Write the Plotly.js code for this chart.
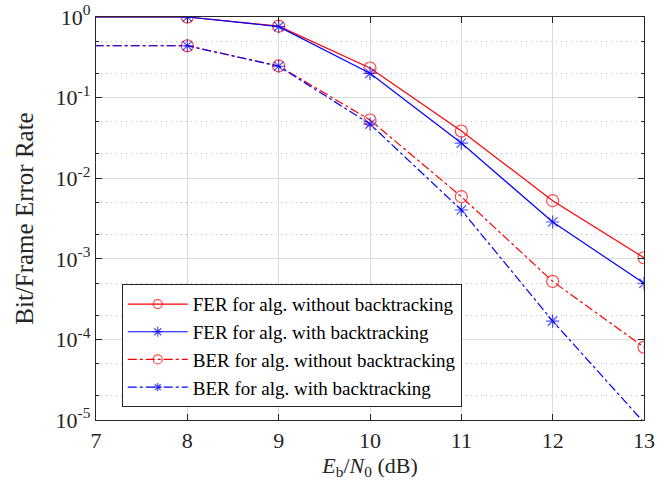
<!DOCTYPE html>
<html><head><meta charset="utf-8">
<script src="https://cdn.plot.ly/plotly-3.0.1.min.js"></script>
<style>body{margin:0;background:#fff}#plot{width:665px;height:485px}</style>
</head><body><div id="plot"></div>
<script>
const ebn0 = [6, 7, 8, 9, 10, 11, 12, 13];
const ferNoBT = [1.0, 1.0, 1.0, 0.77, 0.233, 0.0385, 0.00526, 0.00103];
const ferBT   = [1.0, 1.0, 1.0, 0.76, 0.20, 0.0273, 0.00286, 0.000497];
const berNoBT = [0.44, 0.44, 0.44, 0.247, 0.0527, 0.0059, 0.000525, 0.00008];
const berBT   = [0.44, 0.44, 0.44, 0.245, 0.047, 0.00403, 0.000169, 0.0000093];
const names = ['FER for alg. without backtracking','FER for alg. with backtracking','BER for alg. without backtracking','BER for alg. with backtracking'];
const yTickVals = [1e-5,1e-4,1e-3,1e-2,1e-1,1];
const yTickText = ['10<sup>-5</sup>','10<sup>-4</sup>','10<sup>-3</sup>','10<sup>-2</sup>','10<sup>-1</sup>','10<sup>0</sup>'];

const shownSize = s => ebn0.map((x,i)=> (x<8 ? 0 : s));
const blueBERSize = ebn0.map((x,i)=> (x<8 || berBT[i]<1e-5 ? 0 : 11));
const traces = [
  {x:ebn0,y:ferNoBT,name:names[0],mode:'lines+markers',line:{color:'#ff0000',width:1.2},marker:{symbol:'circle-open',size:shownSize(12),color:'#ff0000',line:{width:1.2}}},
  {x:ebn0,y:ferBT,name:names[1],mode:'lines+markers',line:{color:'#0000ff',width:1.2},marker:{symbol:'asterisk-open',size:shownSize(11),color:'#0000ff',line:{width:1.2}}},
  {x:ebn0,y:berNoBT,name:names[2],mode:'lines+markers',line:{color:'#ff0000',width:1.2,dash:'dashdot'},marker:{symbol:'circle-open',size:shownSize(12),color:'#ff0000',line:{width:1.2}}},
  {x:ebn0,y:berBT,name:names[3],mode:'lines+markers',line:{color:'#0000ff',width:1.2,dash:'dashdot'},marker:{symbol:'asterisk-open',size:blueBERSize,color:'#0000ff',line:{width:1.2}}}
];
const FAM = 'Liberation Serif';
const fnt = {family:FAM,size:20,color:'#262626'};
const layout = {
  width:665,height:485,
  margin:{l:96,r:21,t:17,b:65},
  paper_bgcolor:'#fff',plot_bgcolor:'#fff',
  font:fnt,
  showlegend:true,
  legend:{x:0.047,y:0.337,xanchor:'left',yanchor:'top',bgcolor:'#fff',bordercolor:'#262626',borderwidth:1,
    font:{family:FAM,size:19,color:'#000'},itemwidth:60,tracegroupgap:0},
  xaxis:{range:[7,13],tickvals:[7,8,9,10,11,12,13],ticks:'inside',ticklen:6,tickcolor:'#262626',
    tickfont:{family:FAM,size:22,color:'#262626'},
    showline:true,linecolor:'#262626',linewidth:1.2,mirror:'ticks',
    showgrid:true,gridcolor:'#dcdcdc',gridwidth:1,zeroline:false,
    title:{text:'<i>E</i><sub>b</sub>/<i>N</i><sub>0</sub> (dB)',standoff:4,font:{family:FAM,size:22,color:'#262626'}}},
  yaxis:{type:'log',range:[-5,0],tickvals:yTickVals,ticktext:yTickText,ticks:'inside',ticklen:6,tickcolor:'#262626',
    tickfont:{family:FAM,size:22,color:'#262626'},
    showline:true,linecolor:'#262626',linewidth:1.2,mirror:'ticks',
    showgrid:true,gridcolor:'#dcdcdc',gridwidth:1,zeroline:false,
    minor:{ticks:'inside',ticklen:3,tickcolor:'#262626',showgrid:true,gridcolor:'#bdbdbd',griddash:'1px,4px',gridwidth:1},
    title:{text:'Bit/Frame Error Rate',standoff:14,font:{family:FAM,size:25,color:'#262626'}}}
};
Plotly.newPlot('plot',traces,layout,{displayModeBar:false,staticPlot:true});
</script></body></html>
